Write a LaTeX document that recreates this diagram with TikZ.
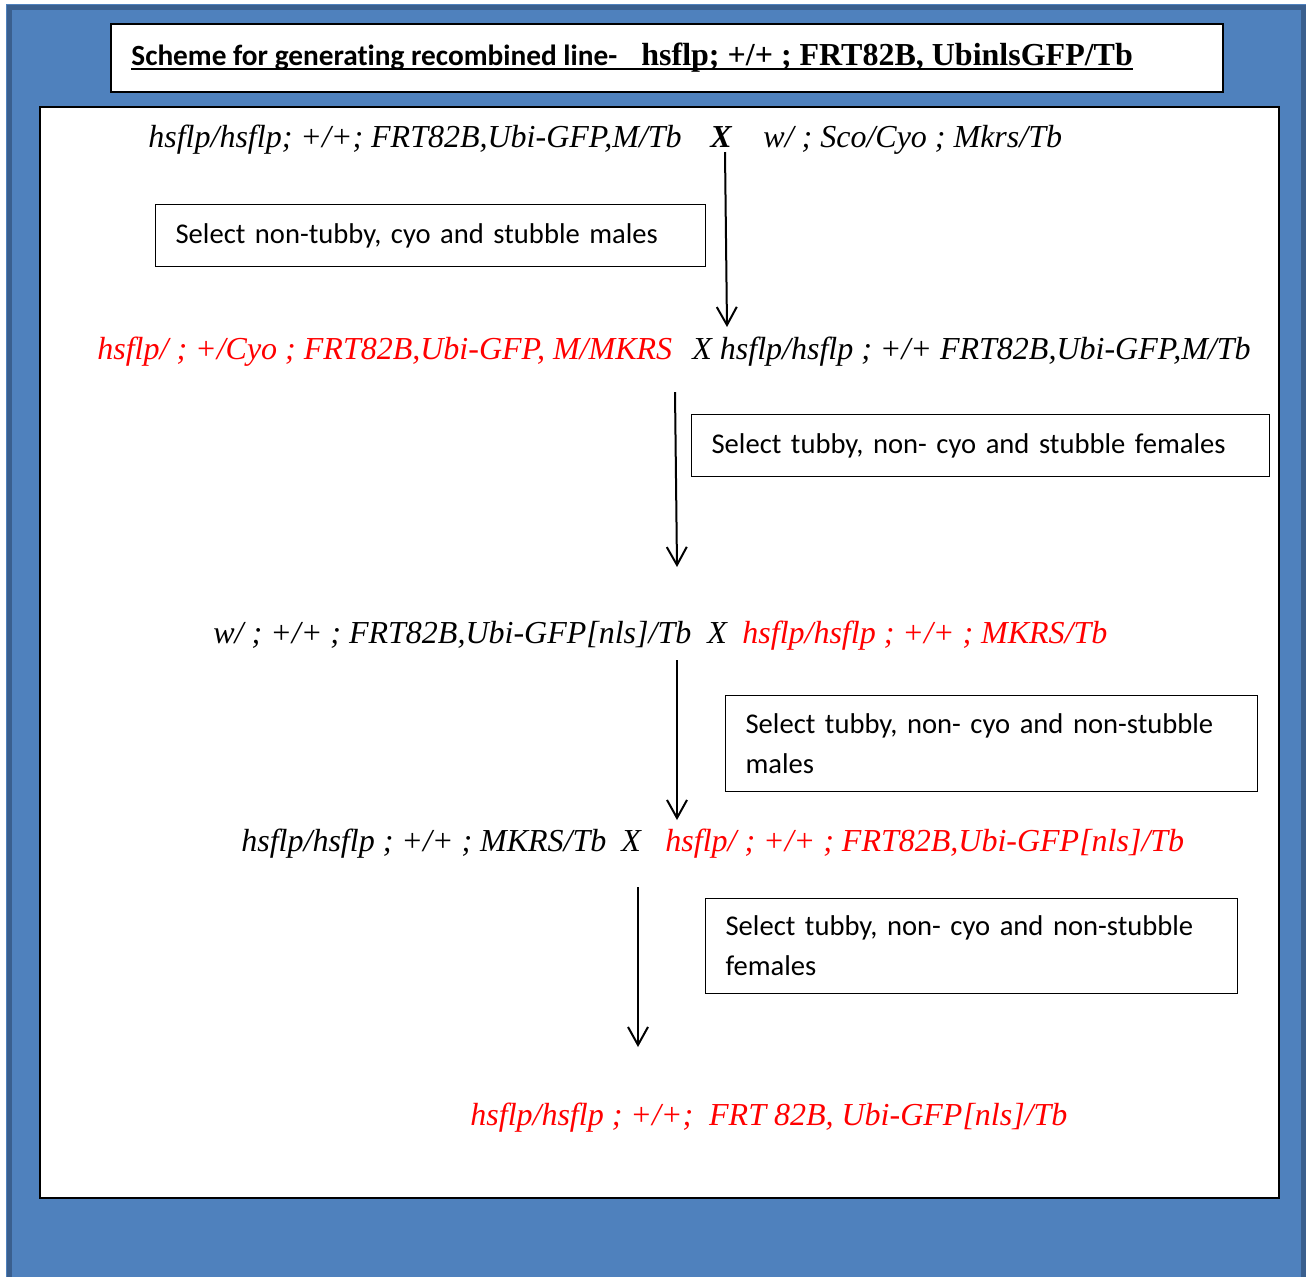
\documentclass[tikz,border=0pt]{standalone}
\usepackage{fontspec}
\setmainfont{Liberation Serif}
\newfontfamily\calibri[Ligatures=NoCommon]{Carlito}
\usepackage{xcolor}
\usetikzlibrary{arrows.meta, positioning}

\definecolor{panelblue}{HTML}{4F81BD}
\definecolor{paneledge}{HTML}{3A5F8E}
\definecolor{gred}{HTML}{FF0000}

\tikzset{
  geno/.style={anchor=base west, inner sep=0pt, font=\fontsize{16}{19}\selectfont\itshape},
  redgeno/.style={geno, text=gred},
  selbox/.style={draw, line width=0.6pt, anchor=north west, inner xsep=10pt, inner ysep=0pt,
    align=left, font=\calibri\fontsize{14.3}{20}\selectfont},
  flow/.style={-{Straight Barb[length=9pt,width=10pt]}, line width=1pt}
}

\begin{document}
\begin{tikzpicture}[x=0.5pt, y=-0.5pt]
  \useasboundingbox (0,0) rectangle (1310,1276);
  \fill[white] (0,0) rectangle (1310,1276);
  % blue panel
  \fill[panelblue] (6,4) rectangle (1306,1290);
  \draw[paneledge, line width=2.5pt] (9,7) rectangle (1303,1300);

  % title
  \draw[fill=white, line width=1pt] (111,24) rectangle (1223,92);
  \node[anchor=base west, inner sep=0pt, font=\calibri\bfseries\fontsize{14.65}{18}\selectfont]
    (ttl1) at (131,65) {Scheme for generating recombined line-};
  \node[anchor=base west, inner sep=0pt, font=\bfseries\fontsize{16}{19}\selectfont]
    (ttl2) at (641,65) {hsflp; +/+ ; FRT82B, UbinlsGFP/Tb};
  \draw[line width=1pt] ([yshift=-2.2pt]ttl1.base west) -- ([yshift=-2.2pt]ttl2.base east);

  % main panel
  \draw[fill=white, line width=1pt] (40,107) rectangle (1279,1198);

  % crosses
  \node[geno] (g1a) at (148,147) {hsflp/hsflp; +/+; FRT82B,Ubi-GFP,M/Tb};
  \node[geno, font=\fontsize{16}{19}\selectfont\bfseries\itshape] (g1x) at (710,147) {X};
  \node[geno] (g1b) at (763,147) {w/ ; Sco/Cyo ; Mkrs/Tb};

  \node[redgeno] (g2a) at (97,359) {hsflp/ ; +/Cyo ; FRT82B,Ubi-GFP, M/MKRS};
  \node[geno] (g2b) at (692,359) {X hsflp/hsflp ; +/+ FRT82B,Ubi-GFP,M/Tb};

  \node[geno] (g3a) at (213,643) {w/ ; +/+ ; FRT82B,Ubi-GFP[nls]/Tb};
  \node[geno] (g3x) at (707,643) {X};
  \node[redgeno] (g3b) at (742,643) {hsflp/hsflp ; +/+ ; MKRS/Tb};

  \node[geno] (g4a) at (241,851) {hsflp/hsflp ; +/+ ; MKRS/Tb};
  \node[geno] (g4x) at (621,851) {X};
  \node[redgeno] (g4b) at (665,851) {hsflp/ ; +/+ ; FRT82B,Ubi-GFP[nls]/Tb};

  \node[redgeno] (g5) at (470,1125) {hsflp/hsflp ; +/+;\ \ FRT 82B, Ubi-GFP[nls]/Tb};

  % selection boxes
  \node[selbox, minimum width=275pt, minimum height=31pt, text width=255pt]
    (sel1) at (155,204) {Select non-tubby, cyo and stubble males};
  \node[selbox, minimum width=289pt, minimum height=31pt, text width=269pt]
    (sel2) at (691,414) {Select tubby, non- cyo and stubble females};
  \node[selbox, minimum width=266pt, minimum height=48pt, text width=246pt]
    (sel3) at (725,695) {Select tubby, non- cyo and non-stubble\\males};
  \node[selbox, minimum width=266pt, minimum height=47.5pt, text width=246pt]
    (sel4) at (705,898) {Select tubby, non- cyo and non-stubble\\females};

  % arrows
  \coordinate (a1s) at (725,152);
  \coordinate (a1e) at (727,327);
  \coordinate (a2s) at (675,392);
  \coordinate (a2e) at (677,567);
  \coordinate (a3s) at (677,660);
  \coordinate (a3e) at (677,820);
  \coordinate (a4s) at (638,887);
  \coordinate (a4e) at (638,1047);
  \draw[flow] (a1s) -- (a1e);
  \draw[flow] (a2s) -- (a2e);
  \draw[flow] (a3s) -- (a3e);
  \draw[flow] (a4s) -- (a4e);
\end{tikzpicture}
\end{document}
